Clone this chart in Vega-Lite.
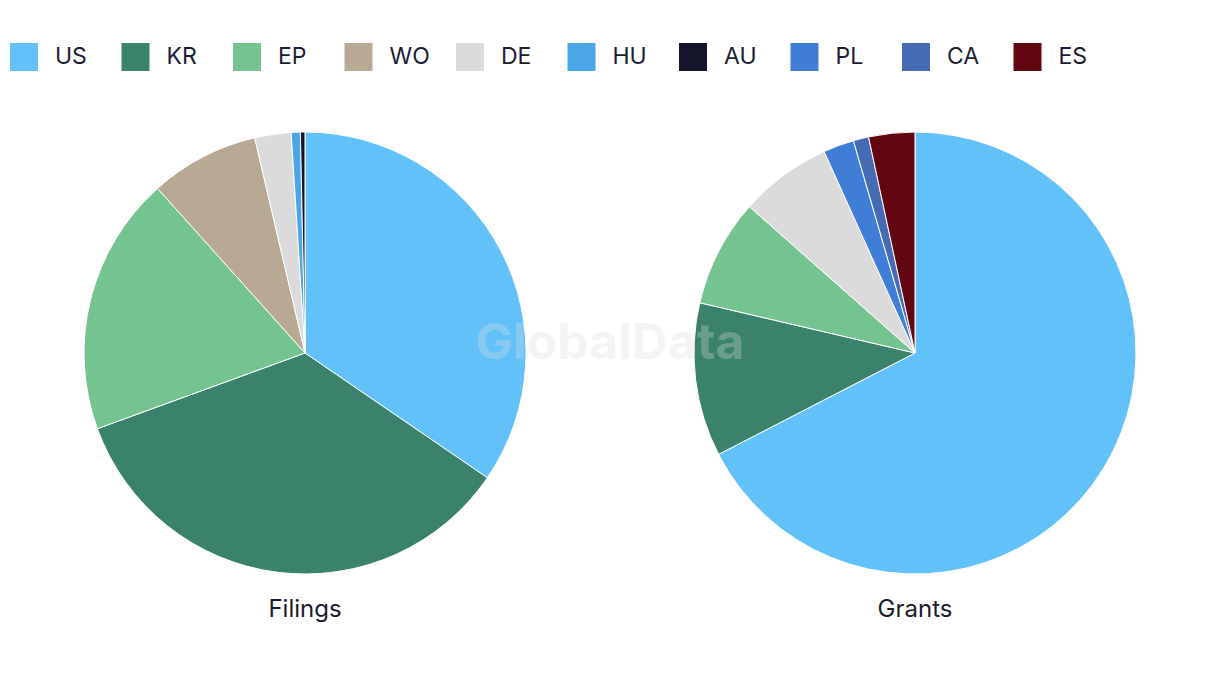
{
  "$schema": "https://vega.github.io/schema/vega-lite/v6.json",
  "padding": {"left": 10, "top": 43, "right": 10, "bottom": 10},
  "background": "white",
  "bounds": "flush",
  "data": {
    "values": [
      {"panel": "Filings", "country": "US", "rank": 1, "count": 104},
      {"panel": "Filings", "country": "KR", "rank": 2, "count": 105},
      {"panel": "Filings", "country": "EP", "rank": 3, "count": 57},
      {"panel": "Filings", "country": "WO", "rank": 4, "count": 24},
      {"panel": "Filings", "country": "DE", "rank": 5, "count": 8},
      {"panel": "Filings", "country": "HU", "rank": 6, "count": 2},
      {"panel": "Filings", "country": "AU", "rank": 7, "count": 1},
      {"panel": "Grants", "country": "US", "rank": 1, "count": 60},
      {"panel": "Grants", "country": "KR", "rank": 2, "count": 10},
      {"panel": "Grants", "country": "EP", "rank": 3, "count": 7},
      {"panel": "Grants", "country": "DE", "rank": 5, "count": 6},
      {"panel": "Grants", "country": "PL", "rank": 8, "count": 2},
      {"panel": "Grants", "country": "CA", "rank": 9, "count": 1},
      {"panel": "Grants", "country": "ES", "rank": 10, "count": 3}
    ]
  },
  "facet": {
    "column": {
      "field": "panel",
      "type": "nominal",
      "sort": ["Filings", "Grants"],
      "header": {
        "title": null,
        "labelOrient": "bottom",
        "labelFont": "Inter",
        "labelFontSize": 24,
        "labelColor": "#1b1b2f",
        "labelPadding": 24
      }
    }
  },
  "spacing": 168,
  "spec": {
    "width": 442,
    "height": 442,
    "layer": [
      {
        "mark": {"type": "arc", "stroke": "white", "strokeWidth": 1},
        "encoding": {
          "theta": {"field": "count", "type": "quantitative", "stack": true},
          "order": {"field": "rank", "type": "quantitative", "sort": "ascending"},
          "color": {
            "field": "country",
            "type": "nominal",
            "scale": {
              "domain": ["US", "KR", "EP", "WO", "DE", "HU", "AU", "PL", "CA", "ES"],
              "range": ["#62C1F9", "#3A826C", "#74C391", "#B8A994", "#DBDBDB", "#4AA6E6", "#14152A", "#407DD6", "#456BB5", "#620711"]
            },
            "legend": {
              "title": null,
              "orient": "none",
              "direction": "horizontal",
              "columns": 10,
              "gridAlign": "all",
              "legendX": -74,
              "legendY": -89,
              "symbolType": "square",
              "symbolSize": 784,
              "symbolStrokeWidth": 0,
              "symbolOpacity": 1,
              "labelFont": "Inter",
              "labelFontSize": 23,
              "labelColor": "#1a1d33",
              "labelOffset": 17,
              "columnPadding": 25.5,
              "labelLimit": 200
            }
          }
        }
      },
      {
        "transform": [{"filter": "datum.panel == 'Grants' && datum.country == 'US'"}],
        "mark": {
          "type": "text",
          "font": "Inter",
          "fontWeight": "bold",
          "fontSize": 50,
          "color": "#dddddd",
          "opacity": 0.3,
          "align": "center",
          "baseline": "middle",
          "dx": -84,
          "dy": -9
        },
        "encoding": {
          "x": {"value": 0},
          "text": {"value": "GlobalData"}
        }
      }
    ]
  },
  "config": {
    "view": {"stroke": null}
  }
}
